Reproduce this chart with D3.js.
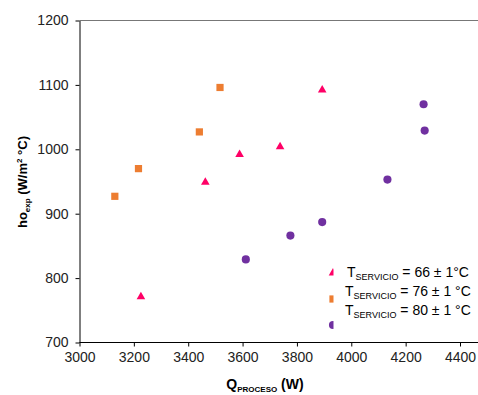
<!DOCTYPE html>
<meta charset="utf-8">
<style>
body { margin: 0; background: #fff; }
svg { font-family: Arial, "Liberation Sans", sans-serif; }
.tick text { font-size: 14px; fill: #222; }
.axis path, .axis line { stroke: #000; }
.title { font-weight: bold; font-size: 13px; fill: #000; }
.legend text { font-size: 14px; fill: #000; }
</style>
<body>
<script src="https://d3js.org/d3.v7.min.js"></script>
<script>
// T servicio = 66 +/- 1 C
var q66 = [3226, 3463, 3589, 3738, 3893],
    h66 = [771, 949, 992, 1004, 1092];
// T servicio = 76 +/- 1 C
var q76 = [3130, 3217, 3441, 3517],
    h76 = [927, 970, 1027, 1096];
// T servicio = 80 +/- 1 C
var q80 = [3612, 3776, 3893, 4133, 4266, 4270],
    h80 = [829, 866, 887, 953, 1070, 1029];

var xTicks = [3000, 3200, 3400, 3600, 3800, 4000, 4200, 4400],
    yTicks = [700, 800, 900, 1000, 1100, 1200];

var w = 478, h = 395,
    mLeft = 79.5, mRight = 478, mTop = 20.5, mBottom = 342.5;

var series = [
  {q: q66, h: h66, label: "= 66 ± 1°C", symbol: d3.symbolTriangle, size: 32, color: "#ff0066"},
  {q: q76, h: h76, label: "= 76 ± 1 °C", symbol: d3.symbolSquare, size: 52, color: "#ed7d31"},
  {q: q80, h: h80, label: "= 80 ± 1 °C", symbol: d3.symbolCircle, size: 52, color: "#7030a0"}
];

var x = d3.scaleLinear().domain([3000, 4400]).range([mLeft, 460]),
    y = d3.scaleLinear().domain([700, 1200]).range([mBottom, mTop]);

var svg = d3.select("body").append("svg")
    .attr("width", w)
    .attr("height", h);

/* top frame line */
svg.append("line")
    .attr("x1", mLeft).attr("x2", mRight)
    .attr("y1", y(1200)).attr("y2", y(1200))
    .attr("stroke", "#777").attr("stroke-width", 1);

/* axes */
var xAxis = svg.append("g")
    .attr("class", "axis")
    .attr("transform", "translate(0," + mBottom + ")")
    .call(d3.axisBottom(x).tickValues(xTicks).tickFormat(d3.format("d"))
      .tickSize(4).tickSizeOuter(0).tickPadding(6));
xAxis.select(".domain").attr("d", "M" + mLeft + ",0H" + mRight);

svg.append("g")
    .attr("class", "axis")
    .attr("transform", "translate(" + mLeft + ",0)")
    .call(d3.axisLeft(y).tickValues(yTicks).tickFormat(d3.format("d"))
      .tickSize(4).tickSizeOuter(0).tickPadding(7));

/* points */
series.forEach(function(s) {
  svg.append("g").selectAll("path")
      .data(s.q.map(function(d, i) { return [d, s.h[i]]; }))
    .enter().append("path")
      .attr("transform", function(d) { return "translate(" + x(d[0]) + "," + y(d[1]) + ")"; })
      .attr("d", d3.symbol().type(s.symbol).size(s.size))
      .attr("fill", s.color);
});

/* legend: markers half hidden by the text box */
var leg = svg.append("g").attr("class", "legend");
var markY = [273, 299, 325], textY = [277, 296, 315];
series.forEach(function(s, i) {
  leg.append("path")
      .attr("transform", "translate(333," + markY[i] + ")")
      .attr("d", d3.symbol().type(s.symbol).size(s.size))
      .attr("fill", s.color);
});
leg.append("rect")
    .attr("x", 333.5).attr("y", 258)
    .attr("width", 140).attr("height", 78)
    .attr("fill", "#fff");
series.forEach(function(s, i) {
  var t = leg.append("text")
      .attr("x", i === 0 ? 347 : 345)
      .attr("y", textY[i]);
  t.append("tspan").text("T");
  t.append("tspan").attr("dy", 3).style("font-size", "9px").text("SERVICIO");
  t.append("tspan").attr("dy", -3).text(" " + s.label);
});

/* axis titles */
var xt = svg.append("text")
    .attr("class", "title")
    .attr("x", 265).attr("y", 389)
    .attr("text-anchor", "middle");
xt.append("tspan").style("font-size", "14px").text("Q");
xt.append("tspan").attr("dy", 3).style("font-size", "8px").text("PROCESO");
xt.append("tspan").attr("dy", -3).style("font-size", "14px").text(" (W)");

var yt = svg.append("text")
    .attr("class", "title")
    .attr("transform", "translate(27,182) rotate(-90)")
    .attr("text-anchor", "middle");
yt.append("tspan").text("ho");
yt.append("tspan").attr("dy", 3).style("font-size", "8px").text("exp");
yt.append("tspan").attr("dy", -3).text(" (W/m");
yt.append("tspan").attr("dy", -5).style("font-size", "8px").text("2");
yt.append("tspan").attr("dy", 5).text(" °C)");
</script>
</body>
